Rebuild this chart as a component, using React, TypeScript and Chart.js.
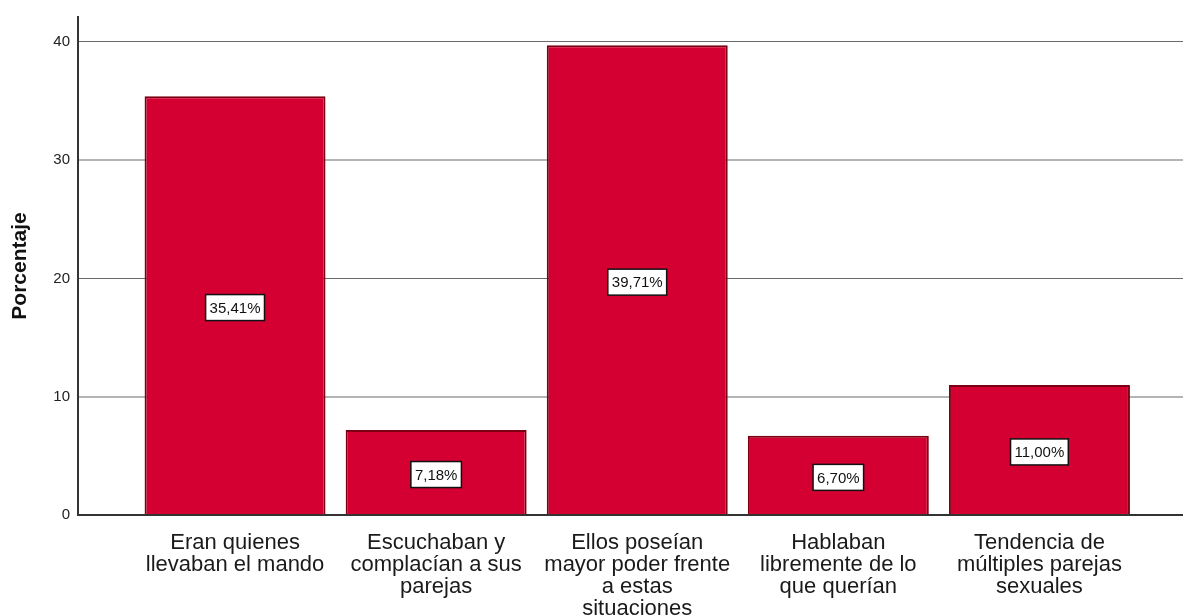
import React, { useEffect, useRef } from "react";
import { Chart, registerables } from "chart.js";

Chart.register(...registerables);

const categories: string[][] = [
  ["Eran quienes", "llevaban el mando"],
  ["Escuchaban y", "complacían a sus", "parejas"],
  ["Ellos poseían", "mayor poder frente", "a estas", "situaciones"],
  ["Hablaban", "libremente de lo", "que querían"],
  ["Tendencia de", "múltiples parejas", "sexuales"],
];
const values: number[] = [35.41, 7.18, 39.71, 6.7, 11.0];
const yTicks: number[] = [0, 10, 20, 30, 40];
const yTitle = "Porcentaje";

const FONT = "'Liberation Sans', Arial, sans-serif";

const boxLabels = {
  id: "boxLabels",
  afterDatasetsDraw(chart: any) {
    const ctx = chart.ctx;
    const meta = chart.getDatasetMeta(0);
    const yScale = chart.scales.y;
    ctx.save();
    ctx.font = `15px ${FONT}`;
    ctx.textAlign = "center";
    ctx.textBaseline = "middle";
    meta.data.forEach((bar: any, i: number) => {
      const v = values[i];
      const text = v.toFixed(2).replace(".", ",") + "%";
      const cx = bar.x;
      const cy = yScale.getPixelForValue(v / 2) + 2;
      const w = ctx.measureText(text).width + 8;
      const h = 26;
      ctx.fillStyle = "#ffffff";
      ctx.fillRect(cx - w / 2, cy - h / 2, w, h);
      ctx.strokeStyle = "#111111";
      ctx.lineWidth = 1.5;
      ctx.strokeRect(cx - w / 2, cy - h / 2, w, h);
      ctx.fillStyle = "#111111";
      ctx.fillText(text, cx, cy + 1);
    });
    ctx.restore();
  },
};

export default function App() {
  const ref = useRef<HTMLCanvasElement>(null);
  useEffect(() => {
    if (!ref.current) return;
    const chart = new Chart(ref.current, {
      type: "bar",
      data: {
        datasets: [
          {
            data: values.map((v, i) => ({ x: i, y: v })),
            backgroundColor: "#d40032",
            borderColor: "#7d0012",
            borderWidth: 2,
            categoryPercentage: 1,
            barPercentage: 0.9,
          },
        ],
      },
      options: {
        responsive: false,
        animation: false,
        layout: { padding: { top: 15, right: 0, left: 0, bottom: 0 } },
        plugins: { legend: { display: false }, tooltip: { enabled: false } },
        scales: {
          x: {
            type: "linear",
            offset: false,
            min: -0.781,
            max: 4.714,
            grid: { display: false, offset: false },
            border: { display: true, color: "#333333", width: 2 },
            afterBuildTicks: (scale: any) => {
              scale.ticks = categories.map((_, i) => ({ value: i }));
            },
            afterFit: (scale: any) => {
              scale.height = 100;
            },
            ticks: {
              autoSkip: false,
              maxRotation: 0,
              minRotation: 0,
              padding: 9,
              color: "#1a1a1a",
              font: { family: FONT, size: 22, lineHeight: 1 },
              callback: (value: any) => categories[Math.round(Number(value))] ?? "",
            },
          },
          y: {
            min: 0,
            max: 42.1,
            afterBuildTicks: (scale: any) => {
              scale.ticks = yTicks.map((v) => ({ value: v }));
            },
            afterFit: (scale: any) => {
              scale.width = 78;
            },
            border: { display: true, color: "#333333", width: 2 },
            grid: {
              drawTicks: false,
              color: (c: any) => {
                const v = c.tick ? c.tick.value : 0;
                if (v === 0) return "#333333";
                return v % 20 === 0 ? "#6a6a6a" : "#b4b4b4";
              },
              lineWidth: (c: any) => {
                const v = c.tick ? c.tick.value : 0;
                if (v === 0) return 2;
                return v % 20 === 0 ? 1 : 2;
              },
            },
            ticks: {
              padding: 8,
              color: "#222222",
              font: { family: FONT, size: 15 },
            },
            title: {
              display: true,
              text: yTitle,
              color: "#111111",
              font: { family: FONT, size: 21, weight: "bold" },
              padding: { top: 8, bottom: 0 },
            },
          },
        },
      },
      plugins: [boxLabels],
    });
    return () => chart.destroy();
  }, []);
  return (
    <div style={{ position: "absolute", left: 0, top: 0, width: 1183, height: 615, background: "#ffffff" }}>
      <canvas ref={ref} width={1183} height={615} style={{ display: "block" }} />
    </div>
  );
}
